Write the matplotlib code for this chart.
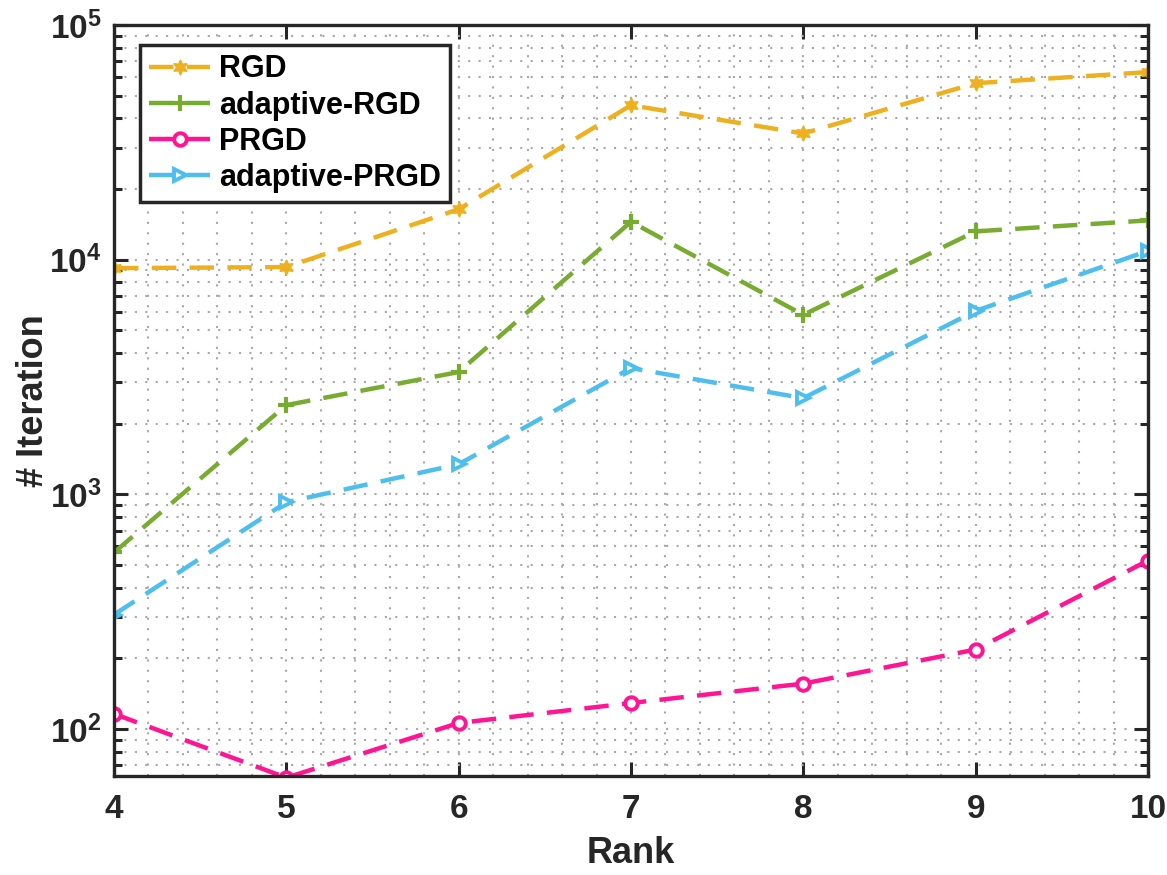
import matplotlib.pyplot as plt
import numpy as np

# Data setup
ranks = [4, 5, 6, 7, 8, 9, 10]
rgd = [9200, 9300, 16400, 45500, 34500, 56500, 63000]
adaptive_rgd = [565, 2400, 3320, 14500, 5820, 13200, 14700]
prgd = [116, 62, 106, 129, 156, 218, 522]
adaptive_prgd = [307, 925, 1343, 3450, 2570, 6050, 10900]

plt.rcParams['font.family'] = ['Liberation Sans', 'DejaVu Sans']
plt.rcParams['font.weight'] = 'bold'
plt.rcParams['mathtext.fontset'] = 'custom'
plt.rcParams['mathtext.rm'] = 'Liberation Sans:bold'
plt.rcParams['mathtext.bf'] = 'Liberation Sans:bold'
plt.rcParams['mathtext.default'] = 'rm'

fig = plt.figure(figsize=(11.67, 8.75), dpi=100)
ax = fig.add_axes([0.0977, 0.1131, 0.886, 0.8583])

lw = 3.2
dash = (5.5, 3)
ax.plot(ranks, rgd, '--', color='#EDB120', lw=lw, marker=(6, 1, 0), ms=11,
        mfc='#EDB120', mec='#EDB120', dashes=dash, label='RGD')
ax.plot(ranks, adaptive_rgd, '--', color='#77AC30', lw=lw, marker='+', ms=12,
        mec='#77AC30', mew=3, dashes=dash, label='adaptive-RGD')
ax.plot(ranks, prgd, '--', color='#FF1493', lw=lw, marker='o', ms=9,
        mfc='white', mec='#FF1493', mew=2.8, dashes=dash, label='PRGD')
ax.plot(ranks, adaptive_prgd, '--', color='#4DBEEE', lw=lw, marker='>', ms=9,
        mfc='white', mec='#4DBEEE', mew=2.8, dashes=dash, label='adaptive-PRGD')

ax.set_yscale('log')
ax.set_xlim(4, 10)
ax.set_ylim(63, 1e5)
ax.set_xticks(ranks)
ax.set_xticks(np.arange(4, 10.01, 0.2), minor=True)

ax.grid(True, which='both', linestyle=(0, (1, 4)), color='#a8a8a8', lw=1.5)
ax.set_axisbelow(True)

ax.tick_params(which='both', direction='in', top=True, right=True, width=2.2,
               labelsize=24, color='#262626', labelcolor='#262626')
ax.tick_params(axis='x', pad=13)
ax.tick_params(axis='y', pad=9)
ax.tick_params(which='major', length=10)
ax.tick_params(which='minor', length=6)
ax.tick_params(axis='x', which='minor', length=0)
for s in ax.spines.values():
    s.set_linewidth(2.4)
    s.set_color('#262626')

ax.set_xlabel('Rank', fontsize=26, fontweight='bold', labelpad=8, color='#262626')
ax.set_ylabel('# Iteration', fontsize=26, fontweight='bold', labelpad=-1, color='#262626')

leg = ax.legend(loc='upper left', bbox_to_anchor=(0.025, 0.973), fontsize=22,
                frameon=True, fancybox=False, edgecolor='#262626', framealpha=1,
                handlelength=2.0, handletextpad=0.3, borderpad=0.3,
                labelspacing=0.2, borderaxespad=0)
leg.get_frame().set_linewidth(2.5)
for t in leg.get_texts():
    t.set_fontweight('bold')

plt.savefig('out.png', dpi=100)
